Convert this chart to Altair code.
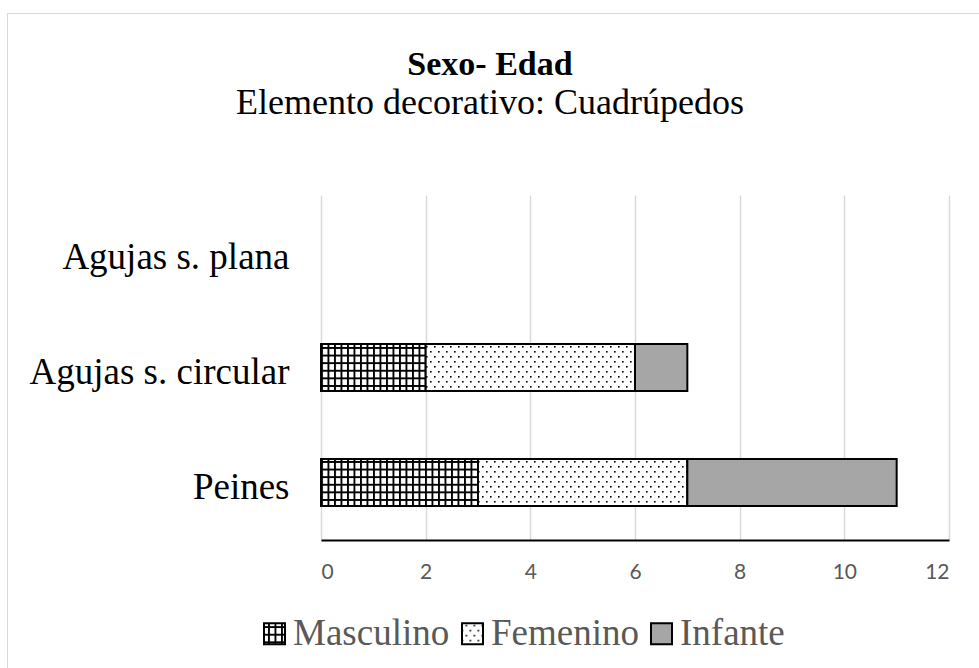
import altair as alt
import pandas as pd
import jinja2

# ---------------- data ----------------
categories = ["Agujas s. plana", "Agujas s. circular", "Peines"]
series = ["Masculino", "Femenino", "Infante"]
masculino = [0, 2, 3]
femenino = [0, 4, 4]
infante = [0, 1, 4]
x_ticks = [0, 2, 4, 6, 8, 10, 12]

rows = []
for i, c in enumerate(categories):
    for j, (s, vals) in enumerate(zip(series, [masculino, femenino, infante])):
        rows.append({"categoria": c, "sexo": s, "valor": vals[i], "orden": j})
df = pd.DataFrame(rows)

SERIF = "Liberation Serif"

bars = (
    alt.Chart(df)
    .transform_filter("datum.valor > 0")
    .mark_bar(stroke="black", strokeWidth=2)
    .encode(
        y=alt.Y(
            "categoria:N",
            sort=categories,
            scale=alt.Scale(domain=categories, paddingInner=0.59, paddingOuter=0.295),
            axis=alt.Axis(
                title=None, domain=False, ticks=False, grid=False,
                labelFont=SERIF, labelFontSize=37, labelColor="black",
                labelPadding=32, labelLimit=500, labelOffset=5,
            ),
        ),
        x=alt.X(
            "valor:Q",
            stack="zero",
            scale=alt.Scale(domain=[0, 12], nice=False),
            axis=alt.Axis(
                title=None, values=x_ticks, ticks=False,
                grid=True, gridColor="#d9d9d9", gridWidth=1.5,
                domain=True, domainColor="black", domainWidth=2,
                labelFont="Lato", labelFontSize=21, labelColor="#595959",
                labelPadding=21,
            ),
        ),
        fill=alt.Fill(
            "sexo:N",
            scale=alt.Scale(domain=series, range=["url(#patMasc)", "url(#patFem)", "#a6a6a6"]),
            legend=alt.Legend(
                title=None, orient="none", legendX=-65, legendY=420,
                direction="horizontal", symbolType="square", symbolSize=441,
                symbolStrokeColor="black", symbolStrokeWidth=2, symbolOpacity=1,
                labelFont=SERIF, labelFontSize=37, labelColor="#595959",
                labelOffset=0, columnPadding=4, labelLimit=500,
            ),
        ),
        order=alt.Order("orden:Q"),
    )
)

chart = (
    bars.properties(
        width=628,
        height=345,
        autosize=alt.AutoSizeParams(type="none"),
        padding={"left": 313, "top": 187, "right": 22, "bottom": 120},
        title=alt.TitleParams(
            text="Sexo- Edad",
            subtitle="Elemento decorativo: Cuadrúpedos",
            font=SERIF, fontSize=34, fontWeight="bold", color="black",
            subtitleFont=SERIF, subtitleFontSize=36, subtitleColor="black",
            anchor="middle", frame="group", dx=-145, offset=74, subtitlePadding=4,
        ),
    )
    .configure_view(stroke=None)
)

TEMPLATE = jinja2.Template("""<!DOCTYPE html>
<html>
<head>
  <meta charset="utf-8">
  <style>
    body { overflow: hidden; }
    #{{ output_div }}.vega-embed { width: 100%; display: flex; }
    #{{ output_div }}.vega-embed details,
    #{{ output_div }}.vega-embed details summary { position: relative; }
    .chart-frame { position: fixed; left: 7px; top: 13px; width: 1200px; height: 1200px;
                   border: 1.5px solid #d9d9d9; pointer-events: none; z-index: 10; }
  </style>
  <script type="text/javascript" src="{{ base_url }}/vega@{{ vega_version }}"></script>
  <script type="text/javascript" src="{{ base_url }}/vega-lite@{{ vegalite_version }}"></script>
  <script type="text/javascript" src="{{ base_url }}/vega-embed@{{ vegaembed_version }}"></script>
</head>
<body>
  <svg width="0" height="0" style="position:absolute">
    <defs>
      <pattern id="patMasc" patternUnits="userSpaceOnUse" width="6.5" height="7.6">
        <rect width="6.5" height="7.6" fill="white"/>
        <rect x="0" y="0" width="1.9" height="7.6" fill="black"/>
        <rect x="0" y="0" width="6.5" height="1.9" fill="black"/>
      </pattern>
      <pattern id="patFem" patternUnits="userSpaceOnUse" width="8" height="10">
        <rect width="8" height="10" fill="white"/>
        <rect x="1" y="1" width="1.6" height="1.6" fill="black"/>
        <rect x="5" y="6" width="1.6" height="1.6" fill="black"/>
      </pattern>
    </defs>
  </svg>
  <div class="chart-frame"></div>
  <div id="{{ output_div }}"></div>
  <script type="text/javascript">
    var spec = {{ spec }};
    var embedOpt = {{ embed_options }};
    function showError(el, error){
        el.innerHTML = ('<div style="color:red;"><p>JavaScript Error: ' + error.message + '</p></div>');
        throw error;
    }
    const el = document.getElementById('{{ output_div }}');
    vegaEmbed("#{{ output_div }}", spec, embedOpt).catch(error => showError(el, error));
  </script>
</body>
</html>
""")

chart.save("out.html", embed_options={"renderer": "svg", "actions": False}, template=TEMPLATE)
